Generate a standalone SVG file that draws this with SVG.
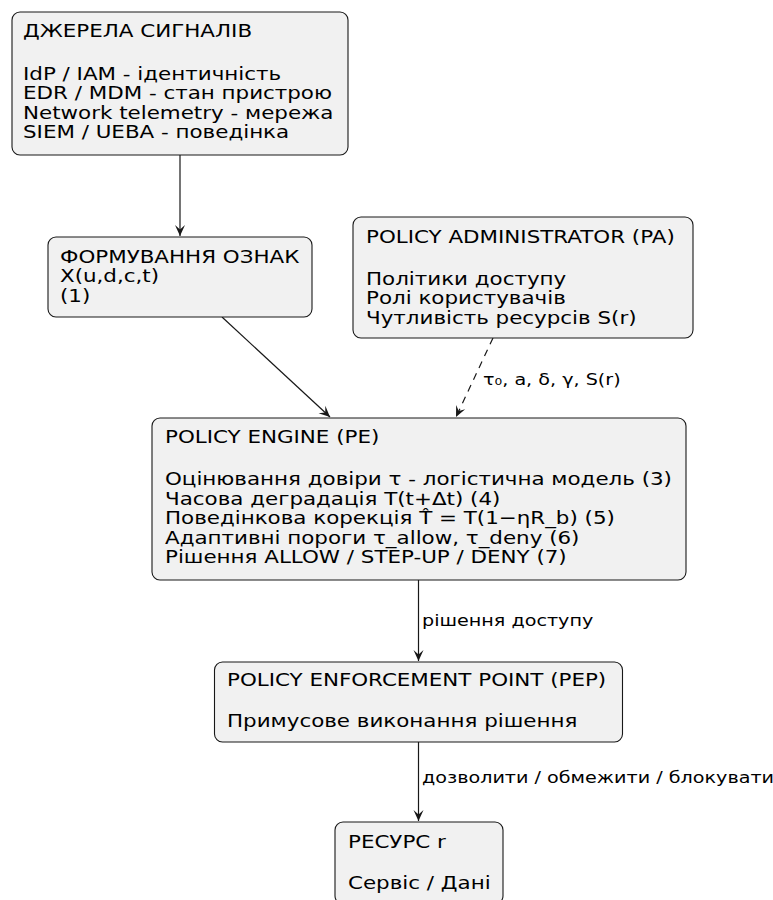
<svg xmlns="http://www.w3.org/2000/svg" width="773" height="900" viewBox="0 0 773 900">
<defs>
<style>
.box{fill:#F1F1F1;stroke:#181818;stroke-width:1.1}
.t{font-family:"DejaVu Sans","Noto Sans",sans-serif;font-size:18px;fill:#000}
.lbl{font-family:"DejaVu Sans","Noto Sans",sans-serif;font-size:16.1px;fill:#000}
.edge{fill:none;stroke:#181818;stroke-width:1.2}
.dash{stroke-dasharray:7,6}
</style>
<marker id="arr" viewBox="-12 -6 13 12" refX="0" refY="0" markerWidth="13" markerHeight="12" markerUnits="userSpaceOnUse" orient="auto">
<path d="M0,0 L-11,-5 L-6.5,0 L-11,5 Z" fill="#181818"/>
</marker>
</defs>
<rect width="773" height="900" fill="#fff"/>
<g id="connectors">
<line class="edge" x1="180" y1="155" x2="180" y2="236" marker-end="url(#arr)"/>
<line class="edge" x1="222" y1="317" x2="330" y2="417" marker-end="url(#arr)"/>
<line class="edge dash" x1="493" y1="338" x2="456" y2="417" marker-end="url(#arr)"/>
<line class="edge" x1="418.5" y1="580" x2="418.5" y2="661" marker-end="url(#arr)"/>
<line class="edge" x1="418.5" y1="742" x2="418.5" y2="821" marker-end="url(#arr)"/>
<g transform="translate(483,0) scale(1.19,1)"><text class="lbl" x="0" y="385">τ₀, a, δ, γ, S(r)</text></g>
<g transform="translate(422,0) scale(1.19,1)"><text class="lbl" x="0" y="626">рішення доступу</text></g>
<g transform="translate(422,0) scale(1.19,1)"><text class="lbl" x="0" y="783">дозволити / обмежити / блокувати</text></g>
</g>
<g id="sources">
<rect class="box" x="12" y="12" width="336" height="143" rx="8"/>
<g transform="translate(23,0) scale(1.19,1)">
<text class="t" x="0" y="37">ДЖЕРЕЛА СИГНАЛІВ</text>
<text class="t" x="0" y="80">IdP / IAM - ідентичність</text>
<text class="t" x="0" y="99.5">EDR / MDM - стан пристрою</text>
<text class="t" x="0" y="119">Network telemetry - мережа</text>
<text class="t" x="0" y="138">SIEM / UEBA - поведінка</text>
</g>
</g>
<g id="features">
<rect class="box" x="48" y="237" width="264" height="80" rx="8"/>
<g transform="translate(60,0) scale(1.19,1)">
<text class="t" x="0" y="263">ФОРМУВАННЯ ОЗНАК</text>
<text class="t" x="0" y="282.5">X(u,d,c,t)</text>
<text class="t" x="0" y="302">(1)</text>
</g>
</g>
<g id="pa">
<rect class="box" x="353" y="217" width="340" height="121" rx="8"/>
<g transform="translate(366,0) scale(1.19,1)">
<text class="t" x="0" y="243">POLICY ADMINISTRATOR (PA)</text>
<text class="t" x="0" y="285">Політики доступу</text>
<text class="t" x="0" y="304.5">Ролі користувачів</text>
<text class="t" x="0" y="324">Чутливість ресурсів S(r)</text>
</g>
</g>
<g id="pe">
<rect class="box" x="152" y="418" width="534" height="162" rx="8"/>
<g transform="translate(165,0) scale(1.19,1)">
<text class="t" x="0" y="443">POLICY ENGINE (PE)</text>
<text class="t" x="0" y="485.5">Оцінювання довіри τ - логістична модель (3)</text>
<text class="t" x="0" y="505">Часова деградація T(t+Δt) (4)</text>
<text class="t" x="0" y="524.5">Поведінкова корекція T̂ = T(1−ηR_b) (5)</text>
<text class="t" x="0" y="544">Адаптивні пороги τ_allow, τ_deny (6)</text>
<text class="t" x="0" y="563.5">Рішення ALLOW / STEP-UP / DENY (7)</text>
</g>
</g>
<g id="pep">
<rect class="box" x="214.5" y="662" width="408" height="80" rx="8"/>
<g transform="translate(227,0) scale(1.19,1)">
<text class="t" x="0" y="686">POLICY ENFORCEMENT POINT (PEP)</text>
<text class="t" x="0" y="727.5">Примусове виконання рішення</text>
</g>
</g>
<g id="resource">
<rect class="box" x="335" y="822" width="168" height="82" rx="8"/>
<g transform="translate(348,0) scale(1.19,1)">
<text class="t" x="0" y="848">РЕСУРС r</text>
<text class="t" x="0" y="889">Сервіс / Дані</text>
</g>
</g>
</svg>
